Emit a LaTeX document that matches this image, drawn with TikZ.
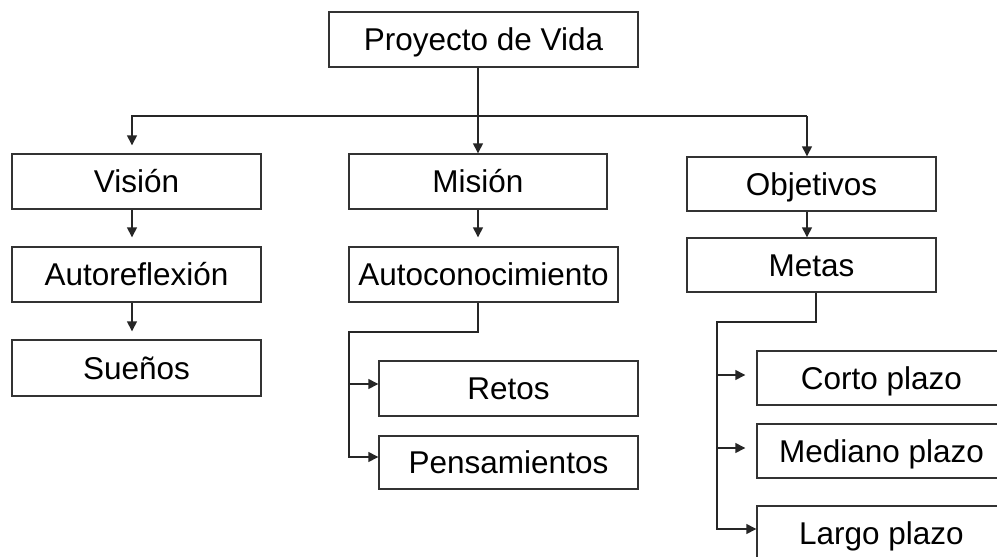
\documentclass[tikz,border=0pt]{standalone}
\usepackage{fontspec}
\setmainfont{Liberation Sans}
\usetikzlibrary{arrows.meta,calc}
\begin{document}
\begin{tikzpicture}[x=1pt,y=-1pt,
  box/.style={draw=black!80, line width=1.4pt, inner sep=0pt, text height=22pt, text depth=0pt,
    font=\fontsize{31.5}{37}\selectfont, minimum height=55pt},
  link/.style={draw=black!85, line width=1.4pt},
  arr/.style={link, -{Triangle[length=10pt,width=10pt]}}]
\useasboundingbox (0,0) rectangle (997,557);
\clip (0,0) rectangle (997,557);
\fill[white] (0,0) rectangle (997,557);
% nodes
\node[box, minimum width=309pt] (top) at (483.5,39.5) {Proyecto de Vida};
\node[box, minimum width=249pt] (vision) at (136.5,181.5) {Visión};
\node[box, minimum width=258pt] (mision) at (478,181.5) {Misión};
\node[box, minimum width=249pt, minimum height=54pt] (objetivos) at (811.5,184) {Objetivos};
\node[box, minimum width=249pt] (autoref) at (136.5,274.5) {Autoreflexión};
\node[box, minimum width=269pt] (autocon) at (483.5,274.5) {Autoconocimiento};
\node[box, minimum width=249pt, minimum height=56pt] (suenos) at (136.5,368) {Sueños};
\node[box, minimum width=259pt] (retos) at (508.5,388.5) {Retos};
\node[box, minimum width=259pt, minimum height=53pt] (pensam) at (508.5,462.5) {Pensamientos};
\node[box, minimum width=249pt, minimum height=54pt] (metas) at (811.5,265) {Metas};
\node[box, minimum width=249pt, minimum height=54pt] (corto) at (881.5,378) {Corto plazo};
\node[box, minimum width=249pt, minimum height=54pt] (mediano) at (881.5,451) {Mediano plazo};
\node[box, minimum width=249pt] (largo) at (881.5,533.5) {Largo plazo};
% coordinates
\coordinate (busL) at (132,116);
\coordinate (busR) at (807,116);
\coordinate (a1) at (478,332);
\coordinate (a2) at (349,332);
\coordinate (b1) at (349,384);
\coordinate (b2) at (349,457);
\coordinate (m1) at (816,322);
\coordinate (m2) at (717,322);
\coordinate (c1) at (717,375);
\coordinate (c2) at (717,448);
\coordinate (c3) at (717,529);
% connectors
\draw[arr] (top.south -| mision.north) -- (mision.north);
\draw[arr, shorten >=8pt] (busR) -- (busL) -- (busL |- vision.north);
\draw[arr] (busR) -- (busR |- objetivos.north);
\draw[arr, shorten >=9pt] (vision.south -| busL) -- (autoref.north -| busL);
\draw[arr, shorten >=8pt] (autoref.south -| busL) -- (suenos.north -| busL);
\draw[arr, shorten >=9pt] (mision.south) -- (mision.south |- autocon.north);
\draw[arr] (objetivos.south -| busR) -- (metas.north -| busR);
\draw[arr] (autocon.south -| a1) -- (a1) -- (a2) -- (b2) -- (b2 -| pensam.west);
\draw[arr] (b1) -- (b1 -| retos.west);
\draw[arr] (metas.south -| m1) -- (m1) -- (m2) -- (c3) -- (c3 -| largo.west);
\draw[arr, shorten >=11pt] (c1) -- (c1 -| corto.west);
\draw[arr, shorten >=11pt] (c2) -- (c2 -| mediano.west);
\end{tikzpicture}
\end{document}
